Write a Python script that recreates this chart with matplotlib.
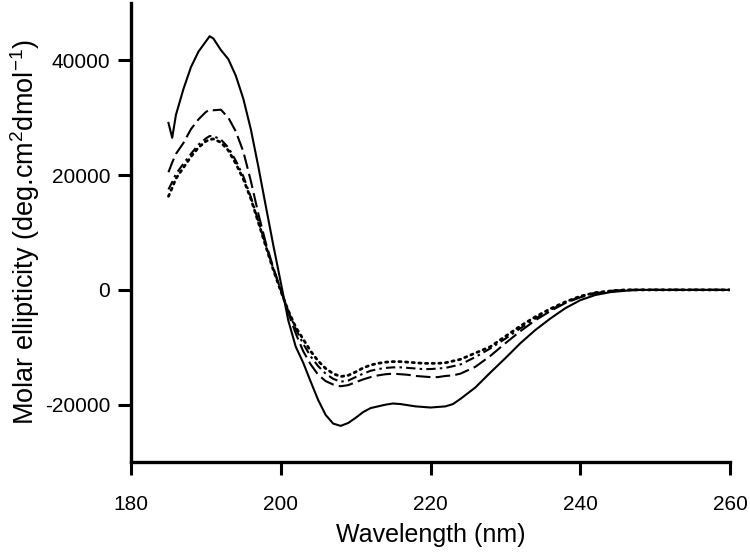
import numpy as np
import matplotlib
matplotlib.use('Agg')
import matplotlib.pyplot as plt

plt.rcParams['font.family'] = ['Liberation Sans', 'DejaVu Sans']
plt.rcParams['mathtext.default'] = 'regular'
plt.rcParams['axes.unicode_minus'] = False

# ---------- CD spectra ----------
wavelength = [185, 185.5, 186, 187, 188, 189, 190, 190.5, 191, 192, 193, 194,
              195, 196, 197, 198, 199, 200, 201, 202, 203, 204, 205, 206, 207,
              208, 209, 210, 211, 212, 213, 214, 215, 216, 217, 218, 219, 220,
              221, 222, 223, 224, 226, 228, 230, 232, 234, 236, 238, 240, 242,
              244, 246, 248, 250, 255, 260]

solid = [29100, 26500, 30500, 35000, 38800, 41500, 43300, 44200, 43800, 41800,
         40200, 37300, 33300, 28000, 21500, 14600, 7800, 1300, -5300, -9900,
         -12700, -16000, -19200, -21800, -23300, -23700, -23200, -22300, -21300,
         -20600, -20300, -20000, -19800, -19900, -20100, -20300, -20400, -20500,
         -20400, -20300, -19900, -19000, -17000, -14400, -11900, -9300, -7000,
         -5000, -3200, -1800, -900, -400, -150, 0, 0, 0, 0]

long_dash = [20500, 22200, 23700, 25600, 28000, 29700, 31000, 31400, 31300,
             31400, 30000, 27600, 24100, 19000, 13300, 8200, 3900, 0, -4000,
             -7600, -10700, -13000, -14800, -15900, -16500, -16800, -16600,
             -16100, -15600, -15200, -14900, -14700, -14600, -14700, -14800,
             -15000, -15100, -15200, -15200, -15000, -14900, -14600, -13400,
             -11500, -9300, -7200, -5300, -3700, -2300, -1300, -600, -200, 0,
             0, 0, 0, 0]

dash_dot = [17500, 18800, 20200, 22000, 23700, 25300, 26400, 26800, 26800,
            26200, 24800, 22500, 19800, 16200, 12000, 7800, 3700, 0, -3700,
            -6800, -9400, -11600, -13300, -14600, -15500, -16000, -15800,
            -15200, -14600, -14100, -13800, -13600, -13500, -13500, -13600,
            -13700, -13800, -13800, -13700, -13600, -13300, -13000, -11700,
            -10200, -8500, -6700, -5000, -3500, -2200, -1200, -500, -200, 0,
            0, 0, 0, 0]

dotted = [16300, 17800, 19400, 21300, 23200, 24800, 25900, 26200, 26300,
          25700, 24300, 22000, 19300, 15900, 11800, 7600, 3500, -200, -3600,
          -6500, -8600, -10700, -12400, -13700, -14600, -15100, -14900,
          -14300, -13600, -13100, -12800, -12600, -12500, -12500, -12600,
          -12700, -12800, -12800, -12800, -12700, -12400, -12100, -11000,
          -9900, -8100, -6300, -4700, -3300, -2100, -1100, -500, -200, 0,
          0, 0, 0, 0]

x_ticks = [180, 200, 220, 240, 260]
y_ticks = [-20000, 0, 20000, 40000]

# ---------- Plot ----------
fig = plt.figure(figsize=(7.5, 5.56), dpi=100)
ax = fig.add_axes([0.1747, 0.169, 0.7986, 0.8257])

ax.plot(wavelength, solid, color='black', lw=1.5, linestyle='-')
ax.plot(wavelength, long_dash, color='black', lw=1.5, dashes=(7, 2.5))
ax.plot(wavelength, dash_dot, color='black', lw=1.5, dashes=(4.5, 2, 1.2, 2))
ax.plot(wavelength, dotted, color='black', lw=2.0, dashes=(0.8, 1.6),
        dash_capstyle='round')

ax.set_xlim(180, 260)
ax.set_ylim(-30000, 50000)
ax.set_xticks(x_ticks)
ax.set_yticks(y_ticks)
ax.tick_params(axis='both', direction='out', length=9.4, width=2.2,
               labelsize=15)
ax.tick_params(axis='x', pad=14)
ax.tick_params(axis='y', pad=5.5)

for side in ('top', 'right'):
    ax.spines[side].set_visible(False)
for side in ('left', 'bottom'):
    ax.spines[side].set_linewidth(2.4)

ax.set_xlabel('Wavelength (nm)', fontsize=18, labelpad=7)
ax.set_ylabel('Molar ellipticity (deg.cm$^{2}$dmol$^{-1}$)', fontsize=19.5,
              labelpad=2)

plt.savefig('out.png', dpi=100)
